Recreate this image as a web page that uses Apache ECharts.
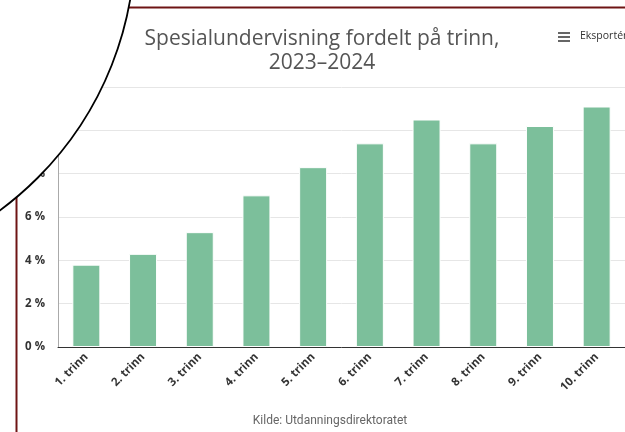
<!DOCTYPE html>
<html>
<head>
<meta charset="utf-8">
<script src="https://cdn.jsdelivr.net/npm/echarts@6/dist/echarts.min.js"></script>
<style>
  html, body { margin: 0; padding: 0; background: #fff; }
  #chart { width: 625px; height: 432px; }
</style>
</head>
<body>
<div id="chart"></div>
<script>
// data
var trinn = ["1. trinn", "2. trinn", "3. trinn", "4. trinn", "5. trinn",
  "6. trinn", "7. trinn", "8. trinn", "9. trinn", "10. trinn"];
var andel = [3.8, 4.3, 5.3, 7.0, 8.3, 9.4, 10.5, 9.4, 10.2, 11.1];
var yTicks = [0, 2, 4, 6, 8, 10, 12];

var chart = echarts.init(document.getElementById("chart"));

chart.setOption({
  animation: false,
  title: [
    {
      text: "Spesialundervisning fordelt på trinn,\n2023–2024",
      left: 317,
      textAlign: "center",
      top: 22,
      textStyle: {
        fontFamily: "Open Sans",
        fontWeight: "normal",
        fontSize: 21,
        lineHeight: 24,
        color: "#555555",
      },
    },
    {
      text: "Kilde: Utdanningsdirektoratet",
      left: 325,
      textAlign: "center",
      top: 410,
      textStyle: {
        fontFamily: "Roboto",
        fontWeight: "normal",
        fontSize: 12,
        color: "#666666",
      },
    },
  ],
  grid: {
    left: 58,
    top: 87,
    width: 573,
    height: 260,
  },
  xAxis: {
    type: "category",
    data: trinn,
    axisLine: { lineStyle: { color: "#333333", width: 1 } },
    axisTick: { show: false },
    axisLabel: {
      rotate: 45,
      interval: 0,
      margin: 8,
      color: "#333333",
      fontFamily: "Open Sans",
      fontWeight: "bold",
      fontSize: 11.5,
    },
  },
  yAxis: {
    type: "value",
    min: yTicks[0],
    max: yTicks[yTicks.length - 1],
    interval: 2,
    axisLine: { show: true, lineStyle: { color: "#aaaaaa" } },
    axisTick: { show: false },
    splitLine: { lineStyle: { color: "#e6e6e6" } },
    axisLabel: {
      formatter: "{value} %",
      margin: 13,
      color: "#333333",
      fontFamily: "Open Sans",
      fontWeight: "bold",
      fontSize: 11.5,
    },
  },
  series: [
    {
      type: "bar",
      data: andel,
      barWidth: 28,
      itemStyle: {
        color: "#7cbf9b",
        borderColor: "#ffffff",
        borderWidth: 1,
      },
    },
  ],
  graphic: [
    // export menu
    {
      type: "group",
      left: 558,
      top: 32,
      z: 50,
      children: [
        { type: "rect", shape: { x: 0, y: 0, width: 12, height: 2 }, style: { fill: "#666666" } },
        { type: "rect", shape: { x: 0, y: 4, width: 12, height: 2 }, style: { fill: "#666666" } },
        { type: "rect", shape: { x: 0, y: 8, width: 12, height: 2 }, style: { fill: "#666666" } },
      ],
    },
    {
      type: "text",
      left: 580,
      top: 31,
      z: 50,
      style: {
        text: "Eksportér",
        fill: "#333333",
        font: "10.5px 'Open Sans'",
      },
    },
    // frame lines
    {
      type: "line",
      z: 90,
      shape: { x1: 128, y1: 7.5, x2: 625, y2: 7.5 },
      style: { stroke: "#6e1414", lineWidth: 2 },
    },
    {
      type: "line",
      z: 90,
      shape: { x1: 16.5, y1: 190, x2: 16.5, y2: 432 },
      style: { stroke: "#6e1414", lineWidth: 2 },
    },
    // white circle overlay
    {
      type: "circle",
      z: 100,
      shape: { cx: -197, cy: -57, r: 332 },
      style: { fill: "#ffffff", stroke: "#000000", lineWidth: 1.8 },
    },
  ],
});
</script>
</body>
</html>
